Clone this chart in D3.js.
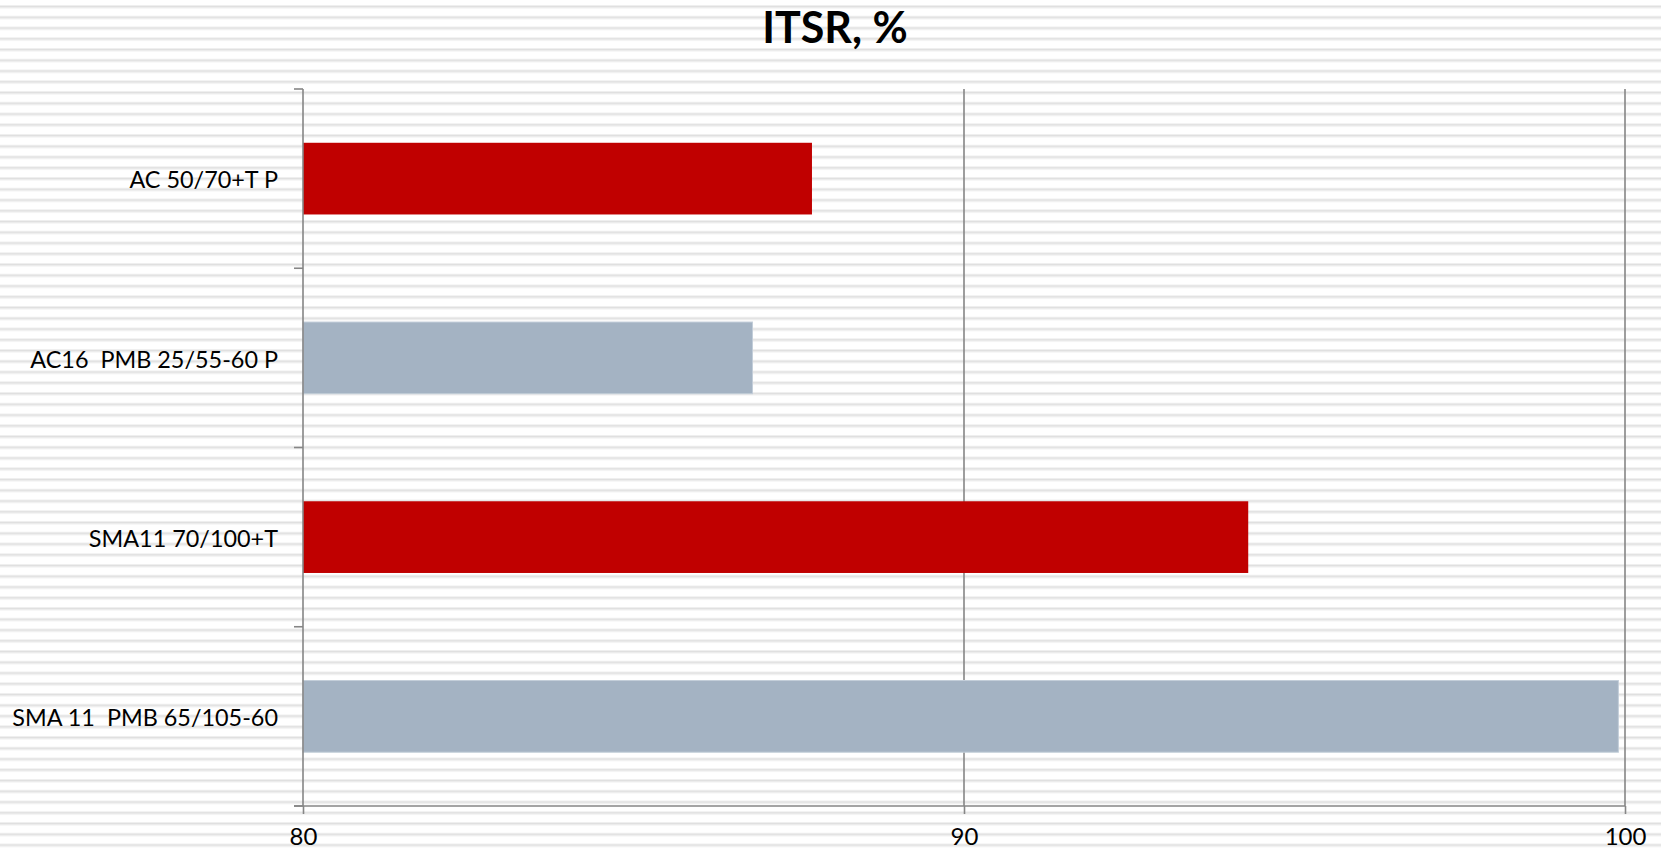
<!DOCTYPE html>
<html>
<head>
<meta charset="utf-8">
<script src="https://cdn.jsdelivr.net/npm/d3@7"></script>
<style>
	body { margin: 0; background: #fff; }
	#chart text { font-family: Lato, "Open Sans", sans-serif; white-space: pre; }
</style>
</head>
<body>
<div id="chart"></div>
<script>
let categories = ["AC 50/70+T P", "AC16  PMB 25/55-60 P", "SMA11 70/100+T", "SMA 11  PMB 65/105-60"];
let itsrValues = [87.7, 86.8, 94.3, 99.9];
let barColors = ["#c00000", "#a4b3c3", "#c00000", "#a4b3c3"];
let xTicks = [80, 90, 100];
let chartTitle = "ITSR, %";

let width = 1661, height = 853;
let svg, x, y;

//
//	initD3
//
initD3 = function () {
	svg = d3
		.select("#chart")
		.append("svg")
		.attr("width", width)
		.attr("height", height);

	// striped background (narrow horizontal pattern)
	let defs = svg.append("defs");
	let pat = defs
		.append("pattern")
		.attr("id", "stripes")
		.attr("patternUnits", "userSpaceOnUse")
		.attr("width", 20)
		.attr("height", 10.75)
		.attr("y", 5);
	pat.append("rect").attr("width", 20).attr("height", 10.75).attr("fill", "#ffffff");
	pat.append("rect").attr("y", 0).attr("width", 20).attr("height", 1).attr("fill", "#efefef");
	pat.append("rect").attr("y", 1).attr("width", 20).attr("height", 1.6).attr("fill", "#e0e0e0");
	pat.append("rect").attr("y", 2.6).attr("width", 20).attr("height", 0.8).attr("fill", "#eeeeee");

	svg.append("rect").attr("width", width).attr("height", height).attr("fill", "url(#stripes)");

	x = d3.scaleLinear().domain([80, 100]).range([303, 1625]);
	y = d3.scaleBand().domain(categories).range([89, 806]).paddingInner(0.6).paddingOuter(0.3);
};

//
//	drawChart
//
drawChart = function () {
	let axisColor = "#868686";

	// vertical gridlines
	svg.append("g")
		.selectAll("line")
		.data(xTicks.slice(1))
		.join("line")
		.attr("x1", (d) => x(d))
		.attr("x2", (d) => x(d))
		.attr("y1", 89)
		.attr("y2", 806)
		.attr("stroke", axisColor)
		.attr("stroke-width", 1.6);

	// bars
	svg.append("g")
		.selectAll("rect")
		.data(categories)
		.join("rect")
		.attr("x", x(80))
		.attr("y", (d) => y(d))
		.attr("width", (d, i) => x(itsrValues[i]) - x(80))
		.attr("height", y.bandwidth())
		.attr("fill", (d, i) => barColors[i])
		.attr("stroke", (d, i) => (barColors[i] === "#a4b3c3" ? "#c3ced9" : "none"))
		.attr("stroke-width", 1);

	// x axis
	let xAxis = svg.append("g")
		.attr("transform", "translate(0,806)")
		.call(d3.axisBottom(x).tickValues(xTicks).tickSize(8).tickPadding(13).tickFormat(d3.format("d")));
	xAxis.select(".domain").attr("d", "M294,0H" + x(100)).attr("stroke", axisColor).attr("stroke-width", 1.6);
	xAxis.selectAll(".tick line").attr("stroke", axisColor).attr("stroke-width", 1.6);
	xAxis.selectAll("text").attr("font-size", 24).attr("fill", "#000").attr("dy", "0.75em");

	// y axis
	let yAxis = svg.append("g")
		.attr("transform", "translate(303,0)")
		.call(d3.axisLeft(y).tickSize(0).tickPadding(25));
	yAxis.select(".domain").attr("d", "M0,89V806").attr("stroke", axisColor).attr("stroke-width", 1.6);
	yAxis.selectAll("text").attr("font-size", 23.4).attr("fill", "#000").attr("dy", "0.42em");

	// category boundary ticks
	let bounds = d3.range(categories.length + 1).map((i) => 89 + i * y.step());
	svg.append("g")
		.selectAll("line")
		.data(bounds)
		.join("line")
		.attr("x1", 294)
		.attr("x2", 303)
		.attr("y1", (d) => d)
		.attr("y2", (d) => d)
		.attr("stroke", axisColor)
		.attr("stroke-width", 1.6);

	// title
	svg.append("text")
		.attr("x", 835)
		.attr("y", 43)
		.attr("text-anchor", "middle")
		.attr("font-size", 43)
		.attr("font-weight", "bold")
		.attr("fill", "#000")
		.text(chartTitle);
};

initD3();
drawChart();
</script>
</body>
</html>
